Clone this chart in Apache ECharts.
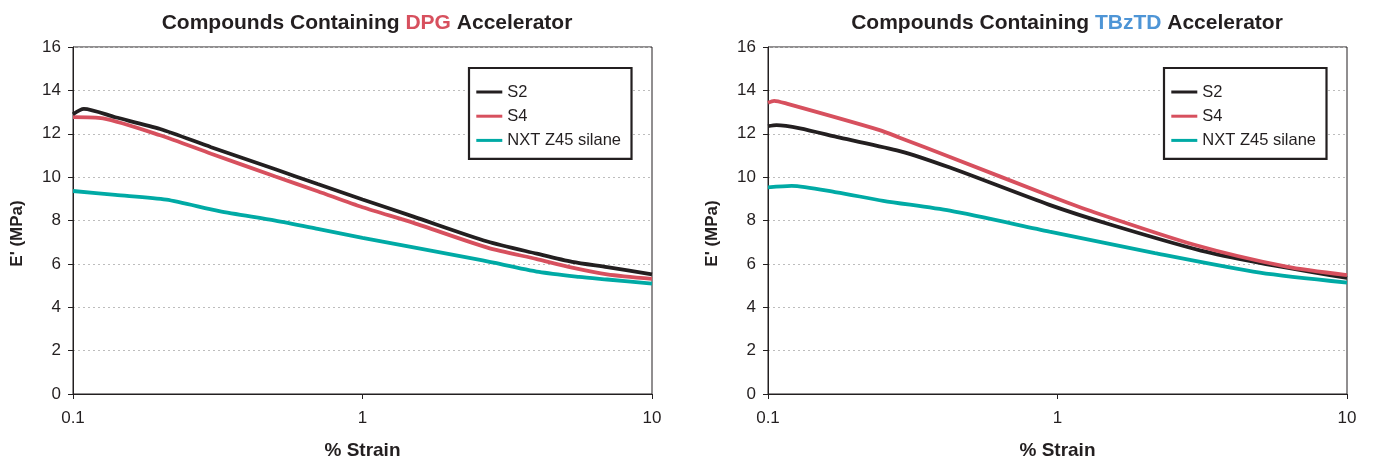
<!DOCTYPE html>
<html><head><meta charset="utf-8">
<script src="https://cdn.jsdelivr.net/npm/echarts@6/dist/echarts.min.js"></script>
<style>html,body{margin:0;padding:0;background:#fff}#c{width:1377px;height:465px}</style>
</head><body><div id="c"></div>
<script>
// ---- data ----
const seriesNames = ['S2', 'S4', 'NXT Z45 silane'];
const yTicks = [0, 2, 4, 6, 8, 10, 12, 14, 16];
const xTicks = [0.1, 1, 10];

// Left chart: DPG accelerator
const dpgStrain = [0.1, 0.109, 0.14, 0.2, 0.3, 0.5, 0.7, 1, 1.5, 2.7, 4, 5.3, 7, 10];
const dpgS2  = [12.9, 13.15, 12.76, 12.22, 11.38, 10.36, 9.68, 8.97, 8.18, 7.03, 6.47, 6.09, 5.85, 5.52];
const dpgS4Strain = [0.1, 0.127, 0.2, 0.3, 0.5, 0.7, 1, 1.5, 2.7, 4, 5.3, 7, 10];
const dpgS4  = [12.77, 12.71, 11.93, 11.08, 10.03, 9.35, 8.61, 7.89, 6.75, 6.22, 5.83, 5.52, 5.31];
const dpgNxtStrain = [0.1, 0.14, 0.21, 0.32, 0.5, 0.7, 1, 1.5, 2.6, 4.07, 5.6, 7, 10];
const dpgNxt = [9.36, 9.18, 8.96, 8.43, 7.99, 7.61, 7.2, 6.76, 6.16, 5.63, 5.40, 5.28, 5.09];

// Right chart: TBzTD accelerator
const tbzS2Strain = [0.1, 0.107, 0.129, 0.177, 0.285, 0.425, 0.938, 1.54, 3.13, 5.0, 10];
const tbzS2  = [12.35, 12.4, 12.25, 11.82, 11.2, 10.44, 8.72, 7.79, 6.61, 6.05, 5.35];
const tbzS4Strain = [0.1, 0.105, 0.116, 0.243, 0.285, 0.425, 0.938, 1.28, 2.97, 6.18, 10];
const tbzS4  = [13.43, 13.52, 13.39, 12.17, 11.82, 10.93, 9.14, 8.47, 6.88, 5.87, 5.48];
const tbzNxtStrain = [0.1, 0.1207, 0.1725, 0.25, 0.425, 0.938, 2.17, 5.0, 10];
const tbzNxt = [9.53, 9.6, 9.3, 8.91, 8.45, 7.49, 6.5, 5.6, 5.14];

const colors = {S2: '#231f20', S4: '#d7505e', NXT: '#00aaa5'};
const titleAccent = ['#d7505e', '#4e95d6'];

function pairs(xs, ys) { return xs.map((x, i) => [x, ys[i]]); }

const FONT = 'Liberation Sans, Arial, sans-serif';
const grids = [
  {left: 73, right: 725, top: 47, bottom: 69},
  {left: 768, right: 30, top: 47, bottom: 69}
];
const titles = [
  {acc: 'DPG', center: 362, color: titleAccent[0]},
  {acc: 'TBzTD', center: 1062, color: titleAccent[1]}
];

function xAxis(i) {
  return {
    type: 'log', logBase: 10, gridIndex: i, min: 0.1, max: 10,
    name: '% Strain', nameLocation: 'middle', nameGap: 47,
    nameTextStyle: {fontFamily: FONT, fontWeight: 'bold', fontSize: 19, color: '#231f20'},
    axisLine: {show: true, lineStyle: {color: '#231f20', width: 1}},
    axisTick: {show: true, length: 5, lineStyle: {color: '#231f20'}},
    minorTick: {show: false},
    splitLine: {show: false},
    axisLabel: {fontFamily: FONT, fontSize: 17, color: '#231f20', margin: 16,
      formatter: v => (xTicks.some(t => Math.abs(t - v) < 1e-9) ? String(v) : '')}
  };
}
function yAxis(i) {
  return {
    type: 'value', gridIndex: i, min: yTicks[0], max: yTicks[yTicks.length - 1], interval: 2,
    name: "E' (MPa)", nameLocation: 'middle', nameGap: 47, nameRotate: 90,
    nameTextStyle: {fontFamily: FONT, fontWeight: 'bold', fontSize: 17, color: '#231f20', padding: [0, 26, 0, 0]},
    axisLine: {show: true, lineStyle: {color: '#231f20', width: 1}},
    axisTick: {show: true, length: 5, lineStyle: {color: '#231f20'}},
    splitLine: {show: true, lineStyle: {color: '#bdbdbd', type: [2, 3], width: 1}},
    axisLabel: {fontFamily: FONT, fontSize: 17, color: '#231f20', margin: 12}
  };
}
function line(name, i, data, color) {
  return {
    type: 'line', name: name, xAxisIndex: i, yAxisIndex: i, data: data,
    showSymbol: false, symbol: 'none', smooth: 0.25,
    lineStyle: {color: color, width: 3.8}, itemStyle: {color: color},
    animation: false
  };
}
function legend(left) {
  return {
    orient: 'vertical', left: left, top: 68, data: seriesNames,
    icon: 'rect', itemWidth: 26, itemHeight: 3, itemGap: 7.2, itemTextGap: 10,
    textStyle: {fontFamily: FONT, fontSize: 16.5, lineHeight: 16, color: '#231f20'},
    borderColor: '#231f20', borderWidth: 2.2, padding: [15.5, 10.5, 10, 7.3],
    backgroundColor: '#fff'
  };
}

const chart = echarts.init(document.getElementById('c'), null, {renderer: 'canvas'});
chart.setOption({
  animation: false,
  backgroundColor: '#fff',
  title: titles.map(t => ({
    text: '{a|Compounds Containing }{b|' + t.acc + '}{a| Accelerator}',
    left: t.center, top: 8, textAlign: 'center',
    textStyle: {rich: {
      a: {fontFamily: FONT, fontWeight: 'bold', fontSize: 21, color: '#231f20'},
      b: {fontFamily: FONT, fontWeight: 'bold', fontSize: 21, color: t.color}
    }}
  })),
  grid: grids.map(g => Object.assign({show: true, borderColor: '#231f20', borderWidth: 1, backgroundColor: 'transparent'}, g)),
  legend: [legend(469), legend(1164)],
  xAxis: [xAxis(0), xAxis(1)],
  yAxis: [yAxis(0), yAxis(1)],
  series: [
    line('NXT Z45 silane', 0, pairs(dpgNxtStrain, dpgNxt), colors.NXT),
    line('S4', 0, pairs(dpgS4Strain, dpgS4), colors.S4),
    line('S2', 0, pairs(dpgStrain, dpgS2), colors.S2),
    line('NXT Z45 silane', 1, pairs(tbzNxtStrain, tbzNxt), colors.NXT),
    line('S2', 1, pairs(tbzS2Strain, tbzS2), colors.S2),
    line('S4', 1, pairs(tbzS4Strain, tbzS4), colors.S4)
  ]
});
</script></body></html>
